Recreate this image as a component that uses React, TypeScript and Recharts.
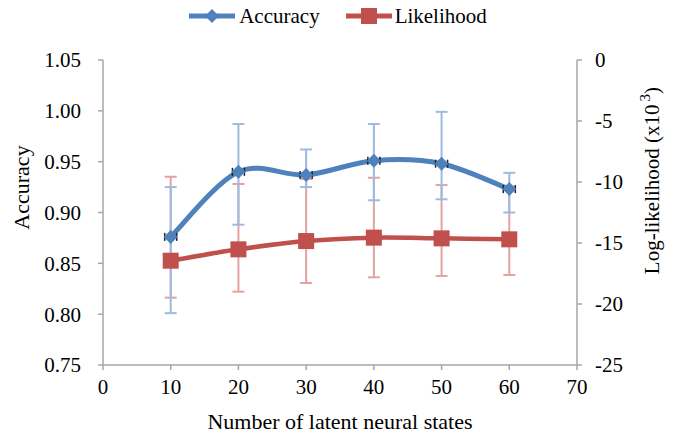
import React from 'react';
import {
  LineChart,
  Line,
  XAxis,
  YAxis,
  Legend,
  ErrorBar,
  Label,
} from 'recharts';

// values
const states = [10, 20, 30, 40, 50, 60];
const accuracy = [0.876, 0.94, 0.937, 0.951, 0.948, 0.923];
const accuracyLow = [0.801, 0.888, 0.925, 0.912, 0.913, 0.9];
const accuracyHigh = [0.925, 0.987, 0.962, 0.987, 0.999, 0.939];
const likelihood = [-16.45, -15.52, -14.84, -14.56, -14.62, -14.7];
const likelihoodLow = [-19.48, -18.99, -18.28, -17.81, -17.7, -17.62];
const likelihoodHigh = [-9.57, -10.16, -9.75, -9.65, -10.25, -10.38];

const xTicks = [0, 10, 20, 30, 40, 50, 60, 70];
const accTicks = [0.75, 0.8, 0.85, 0.9, 0.95, 1.0, 1.05];
const llTicks = [-25, -20, -15, -10, -5, 0];

const BLUE = '#4f81bd';
const RED = '#c0504d';
const AXIS = '#a6a6a6';
const FONT = '"Liberation Serif", "Times New Roman", serif';

const data = states.map((s, i) => ({
  states: s,
  accuracy: accuracy[i],
  accErr: [accuracy[i] - accuracyLow[i], accuracyHigh[i] - accuracy[i]],
  likelihood: likelihood[i],
  llErr: [likelihood[i] - likelihoodLow[i], likelihoodHigh[i] - likelihood[i]],
}));

// Excel-like smoothed line (Catmull-Rom through the points)
const smoothCurve = (context: any) => {
  let pts: number[][] = [];
  return {
    areaStart() {},
    areaEnd() {},
    lineStart() {
      pts = [];
    },
    point(x: number, y: number) {
      pts.push([+x, +y]);
    },
    lineEnd() {
      if (!pts.length) return;
      context.moveTo(pts[0][0], pts[0][1]);
      for (let i = 0; i < pts.length - 1; i++) {
        const p0 = pts[i - 1] || pts[i];
        const p1 = pts[i];
        const p2 = pts[i + 1];
        const p3 = pts[i + 2] || p2;
        context.bezierCurveTo(
          p1[0] + (p2[0] - p0[0]) / 6,
          p1[1] + (p2[1] - p0[1]) / 6,
          p2[0] - (p3[0] - p1[0]) / 6,
          p2[1] - (p3[1] - p1[1]) / 6,
          p2[0],
          p2[1]
        );
      }
    },
  };
};

const DiamondDot = (props: any) => {
  const { cx, cy, index } = props;
  if (cx == null || cy == null) return <g key={`d-${index}`} />;
  return (
    <g key={`d-${index}`}>
      <line x1={cx - 6} y1={cy - 4} x2={cx - 6} y2={cy + 4} stroke="#222" strokeWidth={1.5} />
      <line x1={cx + 6} y1={cy - 4} x2={cx + 6} y2={cy + 4} stroke="#222" strokeWidth={1.5} />
      <polygon
        points={`${cx},${cy - 7} ${cx + 7},${cy} ${cx},${cy + 7} ${cx - 7},${cy}`}
        fill={BLUE}
      />
    </g>
  );
};

const SquareDot = (props: any) => {
  const { cx, cy, index } = props;
  if (cx == null || cy == null) return <g key={`s-${index}`} />;
  return <rect key={`s-${index}`} x={cx - 8} y={cy - 8} width={16} height={16} fill={RED} />;
};

// serif tick labels
const makeTick = (anchor: 'start' | 'middle' | 'end', dy: string, fmt: (v: number) => string) =>
  (props: any) => {
    const { x, y, payload } = props;
    return (
      <text x={x} y={y} dy={dy} textAnchor={anchor} fontFamily={FONT} fontSize={21} fill="#000">
        {fmt(payload.value)}
      </text>
    );
  };

const XTick = makeTick('middle', '0.71em', (v) => String(v));
const LeftTick = makeTick('end', '0.355em', (v) => v.toFixed(2));
const RightTick = makeTick('start', '0.355em', (v) => String(v));

const LegendContent = () => (
  <div
    style={{
      display: 'flex',
      justifyContent: 'center',
      alignItems: 'center',
      height: 32,
      fontFamily: FONT,
      fontSize: 21,
      color: '#000',
    }}
  >
    <svg width={46} height={16}>
      <line x1={0} y1={8} x2={46} y2={8} stroke={BLUE} strokeWidth={5} />
      <polygon points="23,1 30,8 23,15 16,8" fill={BLUE} />
    </svg>
    <span style={{ marginLeft: 4 }}>Accuracy</span>
    <svg width={46} height={18} style={{ marginLeft: 26 }}>
      <line x1={0} y1={9} x2={46} y2={9} stroke={RED} strokeWidth={5} />
      <rect x={15} y={1} width={16} height={16} fill={RED} />
    </svg>
    <span style={{ marginLeft: 3 }}>Likelihood</span>
  </div>
);

const AccuracyLabel = (props: any) => {
  const { viewBox } = props;
  const x = viewBox.x + 21;
  const y = viewBox.y + viewBox.height / 2 - 25;
  return (
    <text
      x={x}
      y={y}
      transform={`rotate(-90, ${x}, ${y})`}
      textAnchor="middle"
      dominantBaseline="central"
      fontFamily={FONT}
      fontSize={22}
      fill="#000"
    >
      Accuracy
    </text>
  );
};

const LikelihoodLabel = (props: any) => {
  const { viewBox } = props;
  const x = viewBox.x + 75;
  const y = viewBox.y + viewBox.height / 2 - 32;
  return (
    <text
      x={x}
      y={y}
      transform={`rotate(-90, ${x}, ${y})`}
      textAnchor="middle"
      dominantBaseline="central"
      fontFamily={FONT}
      fontSize={21}
      fill="#000"
    >
      Log-likelihood (x10
      <tspan dx={3} dy={-7} fontSize={15}>3</tspan>
      <tspan dy={7}>)</tspan>
    </text>
  );
};

export default function App() {
  return (
    <div
      style={{
        position: 'absolute',
        left: 0,
        top: 0,
        width: 676,
        height: 437,
        background: '#fff',
        fontFamily: FONT,
      }}
    >
      <LineChart
        width={676}
        height={437}
        data={data}
        margin={{ top: 28, right: 0, bottom: 0, left: 0 }}
      >
        <Legend verticalAlign="top" height={32} wrapperStyle={{ top: 0 }} content={<LegendContent />} />
        <XAxis
          dataKey="states"
          type="number"
          domain={[0, 70]}
          ticks={xTicks}
          height={72}
          tick={XTick}
          tickSize={5}
          tickMargin={9}
          axisLine={{ stroke: AXIS, strokeWidth: 1.5 }}
          tickLine={{ stroke: AXIS, strokeWidth: 1.5 }}
        >
          <Label
            value="Number of latent neural states"
            position="insideBottom"
            offset={8}
            style={{ fontFamily: FONT, fontSize: 22, fill: '#000' }}
          />
        </XAxis>
        <YAxis
          yAxisId="left"
          domain={[0.75, 1.05]}
          ticks={accTicks}
          width={103}
          tick={LeftTick}
          tickSize={5}
          tickMargin={17}
          axisLine={{ stroke: AXIS, strokeWidth: 1.5 }}
          tickLine={{ stroke: AXIS, strokeWidth: 1.5 }}
          label={<AccuracyLabel />}
        />
        <YAxis
          yAxisId="right"
          orientation="right"
          domain={[-25, 0]}
          ticks={llTicks}
          width={99}
          tick={RightTick}
          tickSize={5}
          tickMargin={13}
          axisLine={{ stroke: AXIS, strokeWidth: 1.5 }}
          tickLine={{ stroke: AXIS, strokeWidth: 1.5 }}
          label={<LikelihoodLabel />}
        />
        <Line
          yAxisId="right"
          dataKey="likelihood"
          type={smoothCurve as any}
          stroke={RED}
          strokeWidth={4.5}
          dot={SquareDot}
          activeDot={false}
          isAnimationActive={false}
        >
          <ErrorBar dataKey="llErr" direction="y" width={6} stroke="#e3a3a2" strokeWidth={2} />
        </Line>
        <Line
          yAxisId="left"
          dataKey="accuracy"
          type={smoothCurve as any}
          stroke={BLUE}
          strokeWidth={5}
          dot={DiamondDot}
          activeDot={false}
          isAnimationActive={false}
        >
          <ErrorBar dataKey="accErr" direction="y" width={6} stroke="#9dbbe0" strokeWidth={2} />
        </Line>
      </LineChart>
    </div>
  );
}
